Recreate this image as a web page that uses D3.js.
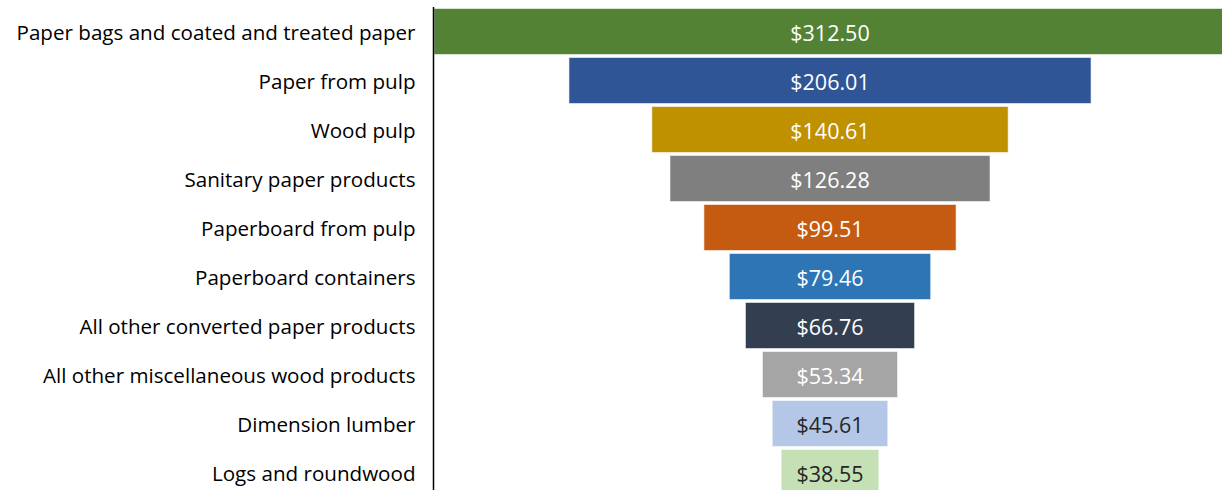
<!DOCTYPE html>
<html><head><meta charset="utf-8">
<script src="https://cdn.jsdelivr.net/npm/d3@7"></script>
<style>body{margin:0;background:#fff;overflow:hidden}</style>
</head><body>
<svg id="c" width="1222" height="490"></svg>
<script>
const categories = ["Paper bags and coated and treated paper","Paper from pulp","Wood pulp","Sanitary paper products","Paperboard from pulp","Paperboard containers","All other converted paper products","All other miscellaneous wood products","Dimension lumber","Logs and roundwood"];
const values = [312.50,206.01,140.61,126.28,99.51,79.46,66.76,53.34,45.61,38.55];
const colors = ["#548235","#2F5597","#BF9000","#7F7F7F","#C55A11","#2E75B6","#333F50","#A5A5A5","#B4C7E7","#C5E0B4"];
const labelColors = ["#fff","#fff","#fff","#fff","#fff","#fff","#fff","#fff","#262626","#262626"];

const svg = d3.select("#c");
const font = "'Open Sans', sans-serif";
const cx = 830;
const y = d3.scaleBand().domain(categories).range([7, 497]).paddingInner(0.06).paddingOuter(0.03);
const w = d3.scaleLinear().domain([0, 312.5]).range([0, 792]);

svg.selectAll("rect.bar").data(values).enter().append("rect")
  .attr("x", d => cx - w(d)/2).attr("y", (d,i) => y(categories[i]))
  .attr("width", d => w(d)).attr("height", y.bandwidth())
  .attr("fill", (d,i) => colors[i]).attr("stroke", "#fff").attr("stroke-opacity", 0.6).attr("stroke-width", 1);

svg.selectAll("text.val").data(values).enter().append("text")
  .attr("x", cx).attr("y", (d,i) => y(categories[i]) + y.bandwidth()/2 + 0.5)
  .attr("text-anchor", "middle").attr("dominant-baseline", "central")
  .attr("font-family", font).attr("font-size", 21.5)
  .attr("fill", (d,i) => labelColors[i])
  .text(d => "$" + d3.format(".2f")(d));

const axis = d3.axisLeft(y).tickSize(0).tickPadding(18);
const g = svg.append("g").attr("transform", "translate(433.5,0)").call(axis);
g.select(".domain").attr("d", "M0,7V490").attr("stroke", "#000").attr("stroke-width", 1.5);
g.selectAll("text").attr("font-family", font).attr("font-size", 20.6).attr("fill", "#000").attr("dy", "0.4em");
</script>
</body></html>
